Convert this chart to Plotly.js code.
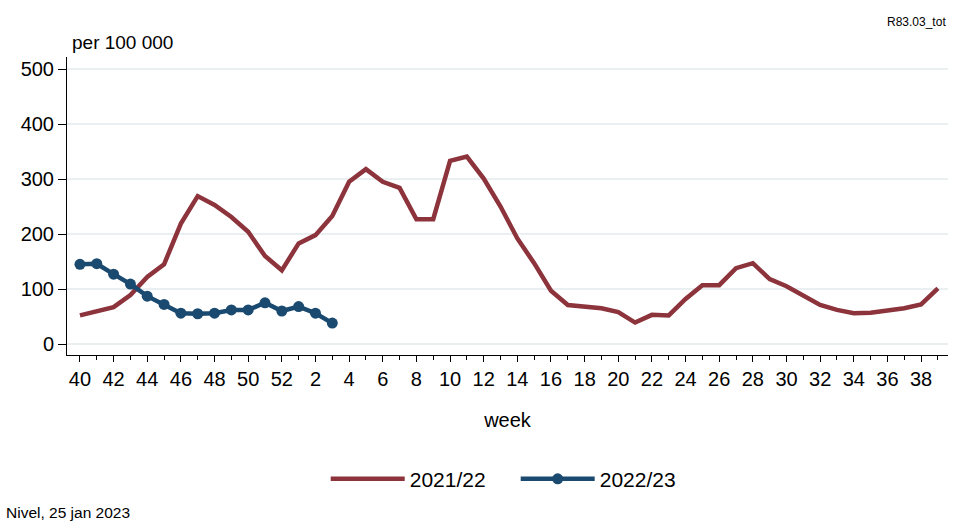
<!DOCTYPE html>
<html><head><meta charset="utf-8">
<script src="https://cdn.plot.ly/plotly-3.0.1.min.js"></script>
<style>html,body{margin:0;padding:0;background:#fff}#chart{width:955px;height:522px}</style>
</head><body><div id="chart"></div>
<script>
const weeks = ['40','41','42','43','44','45','46','47','48','49','50','51','52',
  '1','2','3','4','5','6','7','8','9','10','11','12','13','14','15','16','17','18','19','20',
  '21','22','23','24','25','26','27','28','29','30','31','32','33','34','35','36','37','38','39'];
const season2122 = [52,60,67,89,122,145,219,269,253,231,204,160,134,
  183,198,233,295,318,295,284,227,227,333,341,301,250,192,147,97,71,69,65,58,
  39,53,52,82,107,107,138,147,118,105,89,71,62,56,57,60,65,72,101];
const season2223 = [145,146,127,109,87,72,56,55,56,62,62,75,60,68,56,38];
const tickWeeks = ['40','42','44','46','48','50','52','2','4','6','8','10','12','14','16','18','20',
  '22','24','26','28','30','32','34','36','38'];

const idx = w => weeks.indexOf(w);
const font = 'Liberation Sans, Arial, sans-serif';

const traces = [
  {x: season2122.map((v,i)=>i), y: season2122, name: '2021/22', type: 'scatter', mode: 'lines',
   line: {color: '#8c333b', width: 4.5}},
  {x: season2223.map((v,i)=>i), y: season2223, name: '2022/23', type: 'scatter', mode: 'lines+markers',
   line: {color: '#1b4a70', width: 4.5}, marker: {color: '#1b4a70', size: 11}}
];

const layout = {
  width: 955, height: 522,
  margin: {l: 67, r: 7, t: 57, b: 167},
  paper_bgcolor: '#fff', plot_bgcolor: '#fff',
  font: {family: font, color: '#000'},
  showlegend: true,
  legend: {orientation: 'h', xref: 'container', yref: 'container', x: 0.54, xanchor: 'center', y: 0.082, yanchor: 'middle',
    font: {size: 21, family: font}, itemwidth: 74, entrywidth: 101, traceorder: 'normal'},
  xaxis: {
    range: [-0.77, 51.6], showgrid: false, zeroline: false, automargin: false,
    tickmode: 'array', tickvals: tickWeeks.map(idx), ticktext: tickWeeks,
    ticks: 'outside', ticklen: 6, tickcolor: '#000', tickwidth: 1,
    minor: {tickmode: 'array', tickvals: weeks.map((w,i)=>i), ticks: 'outside', ticklen: 4, tickcolor: '#000', showgrid: false},
    showline: true, linecolor: '#000', linewidth: 1,
    tickfont: {size: 20, family: font},
    title: {text: 'week', font: {size: 20, family: font}, standoff: 23}
  },
  yaxis: {
    range: [-20, 522], tickvals: [0,100,200,300,400,500], automargin: false,
    showgrid: true, gridcolor: '#eaeff1', gridwidth: 1.5, zeroline: false,
    ticks: 'outside', ticklen: 8, tickcolor: '#000',
    showline: true, linecolor: '#000', linewidth: 1,
    tickfont: {size: 20, family: font}
  },
  annotations: [
    {text: 'per 100 000', xref: 'paper', yref: 'paper', x: 0.003, y: 1.0, xanchor: 'left', yanchor: 'bottom', yshift: 2,
     showarrow: false, font: {size: 19, family: font}},
    {text: 'R83.03_tot', xref: 'paper', yref: 'paper', x: 1.0, y: 1.0, xanchor: 'right', yanchor: 'bottom', yshift: 26,
     showarrow: false, font: {size: 12, family: font}},
    {text: 'Nivel, 25 jan 2023', xref: 'paper', yref: 'paper', x: -0.072, y: -0.527, xanchor: 'left', yanchor: 'middle',
     showarrow: false, font: {size: 15.5, family: font}}
  ]
};
Plotly.newPlot('chart', traces, layout, {displayModeBar: false, staticPlot: true});
</script></body></html>
